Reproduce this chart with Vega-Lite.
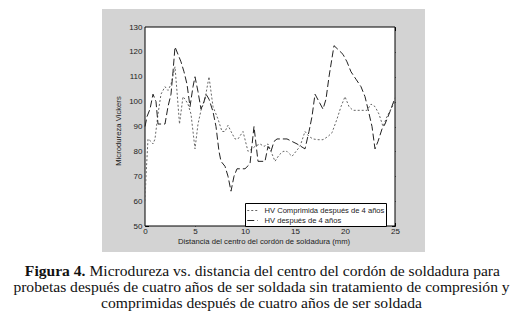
{
  "$schema": "https://vega.github.io/schema/vega-lite/v6.json",
  "background": "white",
  "padding": {"left": 0, "top": 9, "right": 0, "bottom": 0},
  "spacing": 11,
  "center": true,
  "config": {
    "axis": {"zindex": 1, "grid": false, "domain": false, "labelFlush": false},
    "view": {"stroke": null}
  },
  "vconcat": [
    {
      "width": 323,
      "height": 243,
      "view": {"fill": "#d3d3d3", "stroke": null},
      "layer": [
        {
          "data": {"values": [{"frame": "plot"}]},
          "mark": {"type": "rect", "fill": "white", "stroke": "black", "strokeWidth": 1},
          "encoding": {
            "x": {"datum": 0, "type": "quantitative",
              "scale": {"domain": [-4.3, 28.0], "nice": false, "zero": false},
              "axis": {"orient": "top", "offset": -18, "values": [0, 5, 10, 15, 20, 25], "tickSize": -3.5, "tickColor": "black", "labels": false, "title": null}},
            "x2": {"datum": 25},
            "y": {"datum": 50, "type": "quantitative",
              "scale": {"domain": [39.55, 137.24], "nice": false, "zero": false},
              "axis": {"orient": "right", "offset": -30, "values": [50, 60, 70, 80, 90, 100, 110, 120, 130], "tickSize": -3.5, "tickColor": "black", "labels": false, "title": null}},
            "y2": {"datum": 130}
          }
        },
        {
          "data": {"values": [
            {"serie": "HV Comprimida después de 4 años", "x": 0, "hv": 60},
            {"serie": "HV Comprimida después de 4 años", "x": 0.1, "hv": 70},
            {"serie": "HV Comprimida después de 4 años", "x": 0.3, "hv": 85},
            {"serie": "HV Comprimida después de 4 años", "x": 0.6, "hv": 84},
            {"serie": "HV Comprimida después de 4 años", "x": 0.8, "hv": 83},
            {"serie": "HV Comprimida después de 4 años", "x": 1.0, "hv": 85},
            {"serie": "HV Comprimida después de 4 años", "x": 1.3, "hv": 95},
            {"serie": "HV Comprimida después de 4 años", "x": 1.6, "hv": 103},
            {"serie": "HV Comprimida después de 4 años", "x": 2.0, "hv": 106},
            {"serie": "HV Comprimida después de 4 años", "x": 2.3, "hv": 104.5},
            {"serie": "HV Comprimida después de 4 años", "x": 2.6, "hv": 107},
            {"serie": "HV Comprimida después de 4 años", "x": 3.0, "hv": 114},
            {"serie": "HV Comprimida después de 4 años", "x": 3.2, "hv": 104},
            {"serie": "HV Comprimida después de 4 años", "x": 3.45, "hv": 91},
            {"serie": "HV Comprimida después de 4 años", "x": 3.8, "hv": 102},
            {"serie": "HV Comprimida después de 4 años", "x": 4.0, "hv": 101},
            {"serie": "HV Comprimida después de 4 años", "x": 4.3, "hv": 99},
            {"serie": "HV Comprimida después de 4 años", "x": 4.6, "hv": 95},
            {"serie": "HV Comprimida después de 4 años", "x": 5.0, "hv": 81},
            {"serie": "HV Comprimida después de 4 años", "x": 5.3, "hv": 91},
            {"serie": "HV Comprimida después de 4 años", "x": 5.6, "hv": 96.5},
            {"serie": "HV Comprimida después de 4 años", "x": 6.0, "hv": 101},
            {"serie": "HV Comprimida después de 4 años", "x": 6.4, "hv": 110},
            {"serie": "HV Comprimida después de 4 años", "x": 6.8, "hv": 98},
            {"serie": "HV Comprimida después de 4 años", "x": 7.3, "hv": 93},
            {"serie": "HV Comprimida después de 4 años", "x": 7.7, "hv": 88},
            {"serie": "HV Comprimida después de 4 años", "x": 8.0, "hv": 88},
            {"serie": "HV Comprimida después de 4 años", "x": 8.3, "hv": 90.5},
            {"serie": "HV Comprimida después de 4 años", "x": 8.6, "hv": 88},
            {"serie": "HV Comprimida después de 4 años", "x": 9.0, "hv": 85},
            {"serie": "HV Comprimida después de 4 años", "x": 9.3, "hv": 85},
            {"serie": "HV Comprimida después de 4 años", "x": 9.8, "hv": 88},
            {"serie": "HV Comprimida después de 4 años", "x": 10.3, "hv": 80},
            {"serie": "HV Comprimida después de 4 años", "x": 10.7, "hv": 81},
            {"serie": "HV Comprimida después de 4 años", "x": 11.0, "hv": 82},
            {"serie": "HV Comprimida después de 4 años", "x": 11.5, "hv": 83},
            {"serie": "HV Comprimida después de 4 años", "x": 11.9, "hv": 82},
            {"serie": "HV Comprimida después de 4 años", "x": 12.3, "hv": 83},
            {"serie": "HV Comprimida después de 4 años", "x": 12.7, "hv": 79},
            {"serie": "HV Comprimida después de 4 años", "x": 13.0, "hv": 76},
            {"serie": "HV Comprimida después de 4 años", "x": 13.4, "hv": 78.5},
            {"serie": "HV Comprimida después de 4 años", "x": 13.8, "hv": 80},
            {"serie": "HV Comprimida después de 4 años", "x": 14.2, "hv": 80},
            {"serie": "HV Comprimida después de 4 años", "x": 14.7, "hv": 78},
            {"serie": "HV Comprimida después de 4 años", "x": 15.1, "hv": 80},
            {"serie": "HV Comprimida después de 4 años", "x": 15.5, "hv": 82},
            {"serie": "HV Comprimida después de 4 años", "x": 16.0, "hv": 88},
            {"serie": "HV Comprimida después de 4 años", "x": 16.4, "hv": 86},
            {"serie": "HV Comprimida después de 4 años", "x": 16.8, "hv": 85},
            {"serie": "HV Comprimida después de 4 años", "x": 17.3, "hv": 84.7},
            {"serie": "HV Comprimida después de 4 años", "x": 17.8, "hv": 84.7},
            {"serie": "HV Comprimida después de 4 años", "x": 18.3, "hv": 86},
            {"serie": "HV Comprimida después de 4 años", "x": 18.7, "hv": 87.5},
            {"serie": "HV Comprimida después de 4 años", "x": 19.2, "hv": 93},
            {"serie": "HV Comprimida después de 4 años", "x": 19.6, "hv": 98},
            {"serie": "HV Comprimida después de 4 años", "x": 20.0, "hv": 102},
            {"serie": "HV Comprimida después de 4 años", "x": 20.4, "hv": 98},
            {"serie": "HV Comprimida después de 4 años", "x": 20.8, "hv": 96.5},
            {"serie": "HV Comprimida después de 4 años", "x": 21.3, "hv": 96.5},
            {"serie": "HV Comprimida después de 4 años", "x": 21.8, "hv": 96.5},
            {"serie": "HV Comprimida después de 4 años", "x": 22.2, "hv": 96.5},
            {"serie": "HV Comprimida después de 4 años", "x": 22.6, "hv": 99},
            {"serie": "HV Comprimida después de 4 años", "x": 23.0, "hv": 98},
            {"serie": "HV Comprimida después de 4 años", "x": 23.4, "hv": 95},
            {"serie": "HV Comprimida después de 4 años", "x": 23.8, "hv": 90},
            {"serie": "HV Comprimida después de 4 años", "x": 24.2, "hv": 94},
            {"serie": "HV Comprimida después de 4 años", "x": 24.6, "hv": 97},
            {"serie": "HV Comprimida después de 4 años", "x": 25.0, "hv": 100},
            {"serie": "HV después de 4 años", "x": 0, "hv": 90},
            {"serie": "HV después de 4 años", "x": 0.2, "hv": 94},
            {"serie": "HV después de 4 años", "x": 0.5, "hv": 97},
            {"serie": "HV después de 4 años", "x": 0.8, "hv": 103},
            {"serie": "HV después de 4 años", "x": 1.1, "hv": 100},
            {"serie": "HV después de 4 años", "x": 1.3, "hv": 91},
            {"serie": "HV después de 4 años", "x": 1.6, "hv": 91},
            {"serie": "HV después de 4 años", "x": 2.0, "hv": 91},
            {"serie": "HV después de 4 años", "x": 2.3, "hv": 98},
            {"serie": "HV después de 4 años", "x": 2.6, "hv": 103},
            {"serie": "HV después de 4 años", "x": 2.8, "hv": 112},
            {"serie": "HV después de 4 años", "x": 3.0, "hv": 122},
            {"serie": "HV después de 4 años", "x": 3.3, "hv": 119},
            {"serie": "HV después de 4 años", "x": 3.6, "hv": 116},
            {"serie": "HV después de 4 años", "x": 3.9, "hv": 112},
            {"serie": "HV después de 4 años", "x": 4.2, "hv": 107},
            {"serie": "HV después de 4 años", "x": 4.5, "hv": 98},
            {"serie": "HV después de 4 años", "x": 4.8, "hv": 106},
            {"serie": "HV después de 4 años", "x": 5.0, "hv": 110},
            {"serie": "HV después de 4 años", "x": 5.3, "hv": 104},
            {"serie": "HV después de 4 años", "x": 5.6, "hv": 97},
            {"serie": "HV después de 4 años", "x": 5.9, "hv": 100},
            {"serie": "HV después de 4 años", "x": 6.1, "hv": 103},
            {"serie": "HV después de 4 años", "x": 6.4, "hv": 101},
            {"serie": "HV después de 4 años", "x": 6.8, "hv": 96},
            {"serie": "HV después de 4 años", "x": 7.1, "hv": 90},
            {"serie": "HV después de 4 años", "x": 7.4, "hv": 80},
            {"serie": "HV después de 4 años", "x": 7.6, "hv": 76},
            {"serie": "HV después de 4 años", "x": 8.0, "hv": 74},
            {"serie": "HV después de 4 años", "x": 8.3, "hv": 70},
            {"serie": "HV después de 4 años", "x": 8.6, "hv": 64},
            {"serie": "HV después de 4 años", "x": 8.9, "hv": 70},
            {"serie": "HV después de 4 años", "x": 9.2, "hv": 73},
            {"serie": "HV después de 4 años", "x": 9.6, "hv": 73},
            {"serie": "HV después de 4 años", "x": 10.0, "hv": 73},
            {"serie": "HV después de 4 años", "x": 10.5, "hv": 75},
            {"serie": "HV después de 4 años", "x": 10.9, "hv": 90},
            {"serie": "HV después de 4 años", "x": 11.3, "hv": 76},
            {"serie": "HV después de 4 años", "x": 11.7, "hv": 76},
            {"serie": "HV después de 4 años", "x": 12.0, "hv": 76},
            {"serie": "HV después de 4 años", "x": 12.3, "hv": 82},
            {"serie": "HV después de 4 años", "x": 12.6, "hv": 80},
            {"serie": "HV después de 4 años", "x": 12.9, "hv": 84},
            {"serie": "HV después de 4 años", "x": 13.2, "hv": 85},
            {"serie": "HV después de 4 años", "x": 13.7, "hv": 85},
            {"serie": "HV después de 4 años", "x": 14.2, "hv": 85},
            {"serie": "HV después de 4 años", "x": 14.7, "hv": 84},
            {"serie": "HV después de 4 años", "x": 15.2, "hv": 83},
            {"serie": "HV después de 4 años", "x": 15.6, "hv": 82},
            {"serie": "HV después de 4 años", "x": 16.0, "hv": 81},
            {"serie": "HV después de 4 años", "x": 16.4, "hv": 88},
            {"serie": "HV después de 4 años", "x": 16.7, "hv": 94},
            {"serie": "HV después de 4 años", "x": 17.0, "hv": 103},
            {"serie": "HV después de 4 años", "x": 17.4, "hv": 100},
            {"serie": "HV después de 4 años", "x": 17.8, "hv": 97},
            {"serie": "HV después de 4 años", "x": 18.1, "hv": 101},
            {"serie": "HV después de 4 años", "x": 18.4, "hv": 110},
            {"serie": "HV después de 4 años", "x": 18.9, "hv": 122.5},
            {"serie": "HV después de 4 años", "x": 19.3, "hv": 121},
            {"serie": "HV después de 4 años", "x": 19.8, "hv": 119},
            {"serie": "HV después de 4 años", "x": 20.2, "hv": 116},
            {"serie": "HV después de 4 años", "x": 20.6, "hv": 112},
            {"serie": "HV después de 4 años", "x": 21.1, "hv": 109},
            {"serie": "HV después de 4 años", "x": 21.6, "hv": 106},
            {"serie": "HV después de 4 años", "x": 22.0, "hv": 102},
            {"serie": "HV después de 4 años", "x": 22.3, "hv": 97},
            {"serie": "HV después de 4 años", "x": 22.7, "hv": 90},
            {"serie": "HV después de 4 años", "x": 23.0, "hv": 81},
            {"serie": "HV después de 4 años", "x": 23.3, "hv": 84},
            {"serie": "HV después de 4 años", "x": 23.7, "hv": 89},
            {"serie": "HV después de 4 años", "x": 24.0, "hv": 91},
            {"serie": "HV después de 4 años", "x": 24.5, "hv": 96},
            {"serie": "HV después de 4 años", "x": 25.0, "hv": 101.5}
          ]},
          "mark": {"type": "line", "strokeWidth": 1},
          "encoding": {
            "x": {"field": "x", "type": "quantitative",
              "scale": {"domain": [-4.3, 28.0], "nice": false, "zero": false},
              "axis": {"orient": "bottom", "offset": -26, "values": [0, 5, 10, 15, 20, 25], "tickSize": -3.5, "tickColor": "black",
                "labelPadding": 5, "labelFont": "Liberation Sans", "labelFontSize": 8, "labelColor": "#222",
                "title": "Distancia del centro del cordón de soldadura  (mm)", "titleFont": "Liberation Sans", "titleFontSize": 7.7, "titleFontWeight": "normal", "titleColor": "#222", "titlePadding": 2}},
            "y": {"field": "hv", "type": "quantitative",
              "scale": {"domain": [39.55, 137.24], "nice": false, "zero": false},
              "axis": {"orient": "left", "offset": -43, "values": [50, 60, 70, 80, 90, 100, 110, 120, 130], "tickSize": -3.5, "tickColor": "black",
                "labelPadding": 6.5, "labelFont": "Liberation Sans", "labelFontSize": 8, "labelColor": "#222",
                "title": "Microdureza Vickers", "titleFont": "Liberation Sans", "titleFontSize": 7.7, "titleFontWeight": "normal", "titleColor": "#222", "titlePadding": 6}},
            "color": {"field": "serie", "type": "nominal",
              "scale": {"domain": ["HV Comprimida después de 4 años", "HV después de 4 años"], "range": ["#666666", "#222222"]},
              "legend": {"orient": "none", "legendX": 245, "legendY": 194, "title": null, "strokeColor": "black", "fillColor": "white",
                "padding": 1.5, "rowPadding": -1.5, "symbolType": "stroke", "symbolSize": 110, "symbolStrokeWidth": 1, "labelOffset": 6,
                "labelFont": "Liberation Sans", "labelFontSize": 7.6, "labelColor": "#222", "zindex": 2}},
            "strokeDash": {"field": "serie", "type": "nominal",
              "scale": {"domain": ["HV Comprimida después de 4 años", "HV después de 4 años"], "range": [[2, 2], [7, 3]]}}
          }
        }
      ],
      "resolve": {"axis": {"x": "independent", "y": "independent"}}
    },
    {
      "width": 527,
      "height": 48,
      "data": {"values": [
        {"line": 1, "part": "b", "text": "Figura 4."},
        {"line": 1, "part": "r", "text": "Microdureza vs. distancia del centro del cordón de soldadura para"},
        {"line": 2, "part": "c", "text": "probetas después de cuatro años de ser soldada sin tratamiento de compresión y"},
        {"line": 3, "part": "c", "text": "comprimidas después de cuatro años de ser soldada"}
      ]},
      "encoding": {"y": {"field": "line", "type": "ordinal", "axis": null}},
      "layer": [
        {"transform": [{"filter": "datum.part == 'b'"}],
          "mark": {"type": "text", "font": "Liberation Serif", "fontSize": 15.6, "fontWeight": "bold", "align": "right", "baseline": "middle", "dx": -178, "color": "#111"},
          "encoding": {"text": {"field": "text"}}},
        {"transform": [{"filter": "datum.part == 'r'"}],
          "mark": {"type": "text", "font": "Liberation Serif", "fontSize": 15.6, "align": "left", "baseline": "middle", "dx": -174, "color": "#111"},
          "encoding": {"text": {"field": "text"}}},
        {"transform": [{"filter": "datum.part == 'c'"}],
          "mark": {"type": "text", "font": "Liberation Serif", "fontSize": 15.6, "align": "center", "baseline": "middle", "dx": -2, "color": "#111"},
          "encoding": {"text": {"field": "text"}}}
      ]
    }
  ]
}
